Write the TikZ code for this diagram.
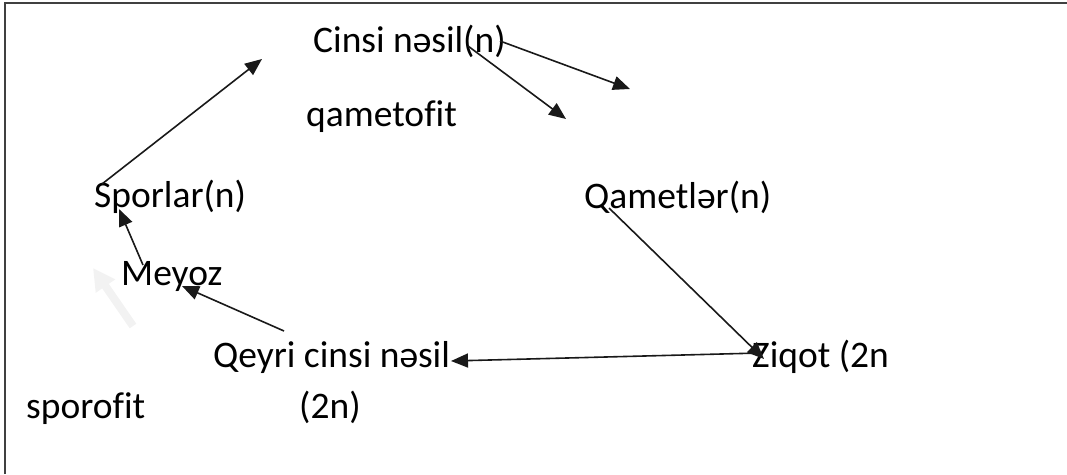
\documentclass[tikz,border=0pt]{standalone}
\usepackage{fontspec}
\setmainfont[Ligatures=NoCommon]{Carlito}
\usetikzlibrary{arrows.meta}
\begin{document}
\begin{tikzpicture}[x=1pt,y=-1pt,
  lbl/.style={anchor=base west,inner sep=0pt,font=\fontsize{37.5}{45}\selectfont},
  arr/.style={line width=1.6pt,draw=black!90,-{Triangle[length=17pt,width=14pt]}},
  frame/.style={line width=2pt,draw=black!75}]
\useasboundingbox (0,0) rectangle (1067,474);
% frame
\draw[frame] (5,474) -- (5,3) -- (1067,3);
% text nodes
\node[lbl] (cinsi) at (313,52) {Cinsi nəsil(n)};
\node[lbl] (qamf) at (306,126) {qametofit};
\node[lbl] (spor) at (94,207) {Sporlar(n)};
\node[lbl] (qamet) at (584,208) {Qametlər(n)};
\node[lbl] (meyoz) at (121,285) {Meyoz};
\node[lbl] (qeyri) at (213,367) {Qeyri cinsi nəsil};
\node[lbl] (ziqot) at (752,367) {Ziqot (2n};
\node[lbl] (sporof) at (26,418) {sporofit};
\node[lbl] (twon) at (299,418) {(2n)};
% connector end points
\coordinate (s1) at (102,184);
\coordinate (e1) at (262,59);
\coordinate (s2) at (143,265);
\coordinate (e2) at (119,209);
\coordinate (s3) at (284,331);
\coordinate (e3) at (182,286);
\coordinate (s4) at (760,353);
\coordinate (e4) at (451,361);
\coordinate (s5) at (609,208);
\coordinate (e5) at (764,359);
\coordinate (s6) at (500,41);
\coordinate (e6) at (630,89);
\coordinate (s7) at (468,46);
\coordinate (e7) at (566,119);
\coordinate (fs) at (133,326);
\coordinate (fe) at (93,268);
% faint arrow
\draw[line width=8pt,draw=black!5,-{Triangle[length=22pt,width=22pt]}] (fs) -- (fe);
% arrows
\draw[arr] (s1) -- (e1);
\draw[arr] (s2) -- (e2);
\draw[arr] (s3) -- (e3);
\draw[arr] (s4) -- (e4);
\draw[arr] (s5) -- (e5);
\draw[arr] (s6) -- (e6);
\draw[arr] (s7) -- (e7);
\end{tikzpicture}
\end{document}
